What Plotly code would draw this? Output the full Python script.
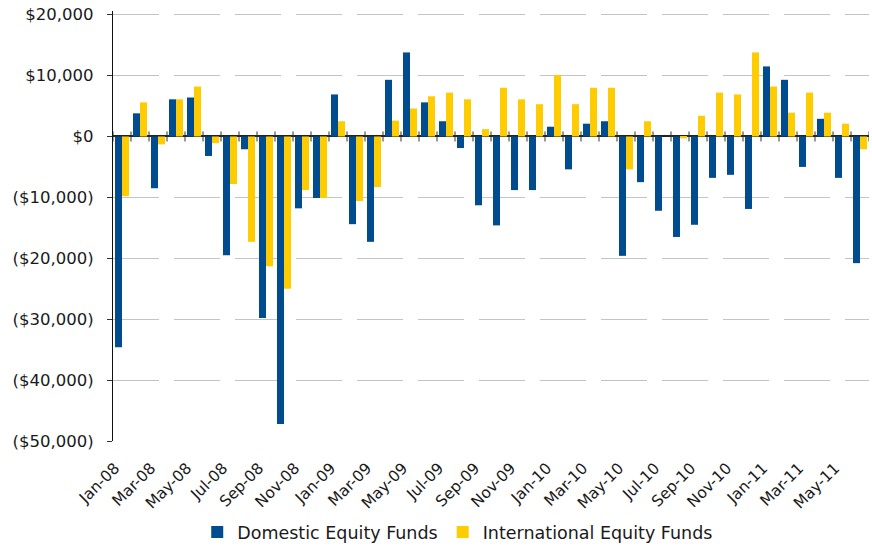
import plotly.graph_objects as go

months = ["Jan-08", "Feb-08", "Mar-08", "Apr-08", "May-08", "Jun-08", "Jul-08", "Aug-08", "Sep-08", "Oct-08", "Nov-08", "Dec-08",
          "Jan-09", "Feb-09", "Mar-09", "Apr-09", "May-09", "Jun-09", "Jul-09", "Aug-09", "Sep-09", "Oct-09", "Nov-09", "Dec-09",
          "Jan-10", "Feb-10", "Mar-10", "Apr-10", "May-10", "Jun-10", "Jul-10", "Aug-10", "Sep-10", "Oct-10", "Nov-10", "Dec-10",
          "Jan-11", "Feb-11", "Mar-11", "Apr-11", "May-11", "Jun-11"]

domestic = [-34600, 3800, -8500, 6100, 6400, -3200, -19500, -2100, -29800, -47200, -11800, -10100,
            6900, -14400, -17300, 9300, 13800, 5600, 2500, -1900, -11300, -14600, -8800, -8800,
            1600, -5400, 2100, 2500, -19600, -7500, -12200, -16500, -14500, -6800, -6300, -11900,
            11500, 9300, -5000, 2900, -6800, -20800]

international = [-9800, 5600, -1300, 6100, 8200, -1100, -7800, -17300, -21300, -25000, -8800, -10100,
                 2500, -10600, -8300, 2600, 4600, 6600, 7200, 6100, 1200, 8000, 6100, 5300,
                 10100, 5300, 8000, 8000, -5400, 2500, 0, -300, 3400, 7200, 6900, 13800,
                 8200, 3900, 7200, 3900, 2100, -2100]

y_tickvals = [20000, 10000, 0, -10000, -20000, -30000, -40000, -50000]
y_ticktext = ["$20,000", "$10,000", "$0", "($10,000)", "($20,000)", "($30,000)", "($40,000)", "($50,000)"]

BLUE = "#004C8F"
YELLOW = "#FFCC00"
FONT = "DejaVu Sans"
TXT = "#1a1a1a"

fig = go.Figure()
fig.add_trace(go.Bar(x=months, y=domestic, name="Domestic Equity Funds", marker=dict(color=BLUE, line=dict(width=0))))
fig.add_trace(go.Bar(x=months, y=international, name="International Equity Funds", marker=dict(color=YELLOW, line=dict(width=0))))

n = len(months)
bounds = [i - 0.5 for i in range(n + 1)]

# category-boundary tick marks crossing the zero line (axis decoration)
tick_shapes = [dict(type="line", xref="x", yref="y", x0=b, x1=b, ysizemode="pixel", yanchor=0,
                    y0=-5, y1=5, line=dict(color="#333", width=1), layer="above")
               for b in bounds]

fig.update_layout(
    width=872, height=547,
    margin=dict(l=113, r=3, t=11, b=106),
    paper_bgcolor="white", plot_bgcolor="white",
    barmode="group", bargap=0.22, bargroupgap=0,
    font=dict(family=FONT, color=TXT),
    showlegend=True,
    shapes=tick_shapes,
    legend=dict(orientation="h", x=0.456, xanchor="center", yref="container", y=15 / 547, yanchor="middle",
                font=dict(family=FONT, size=17.5, color=TXT), bgcolor="rgba(0,0,0,0)"),
    xaxis=dict(type="category", categoryorder="array", categoryarray=months,
               range=[-0.5, n - 0.5], tickmode="array", tickvals=months[::2], ticktext=months[::2],
               tickangle=-45, ticks="", showline=False, showgrid=False, zeroline=False, automargin=False,
               tickfont=dict(family=FONT, size=15.5, color=TXT), ticklabelshift=-7, ticklabelstandoff=14),
    yaxis=dict(range=[-50000, 20600], tickmode="array", tickvals=y_tickvals, ticktext=y_ticktext,
               showgrid=True, gridcolor="#C4C4C4", gridwidth=1, griddash="46px,15px",
               zeroline=True, zerolinecolor="#222", zerolinewidth=1.5,
               showline=True, linecolor="#111", linewidth=1.2, automargin=False,
               ticks="outside", ticklen=5, tickcolor="#333", ticklabeloverflow="allow",
               tickfont=dict(family=FONT, size=16.5, color=TXT), ticklabelstandoff=10),
)

# remove the page's default 8px body margin so the figure fills the window exactly
fig.write_html("out.html", config={"displayModeBar": False},
               post_script="document.body.style.margin='0';")
